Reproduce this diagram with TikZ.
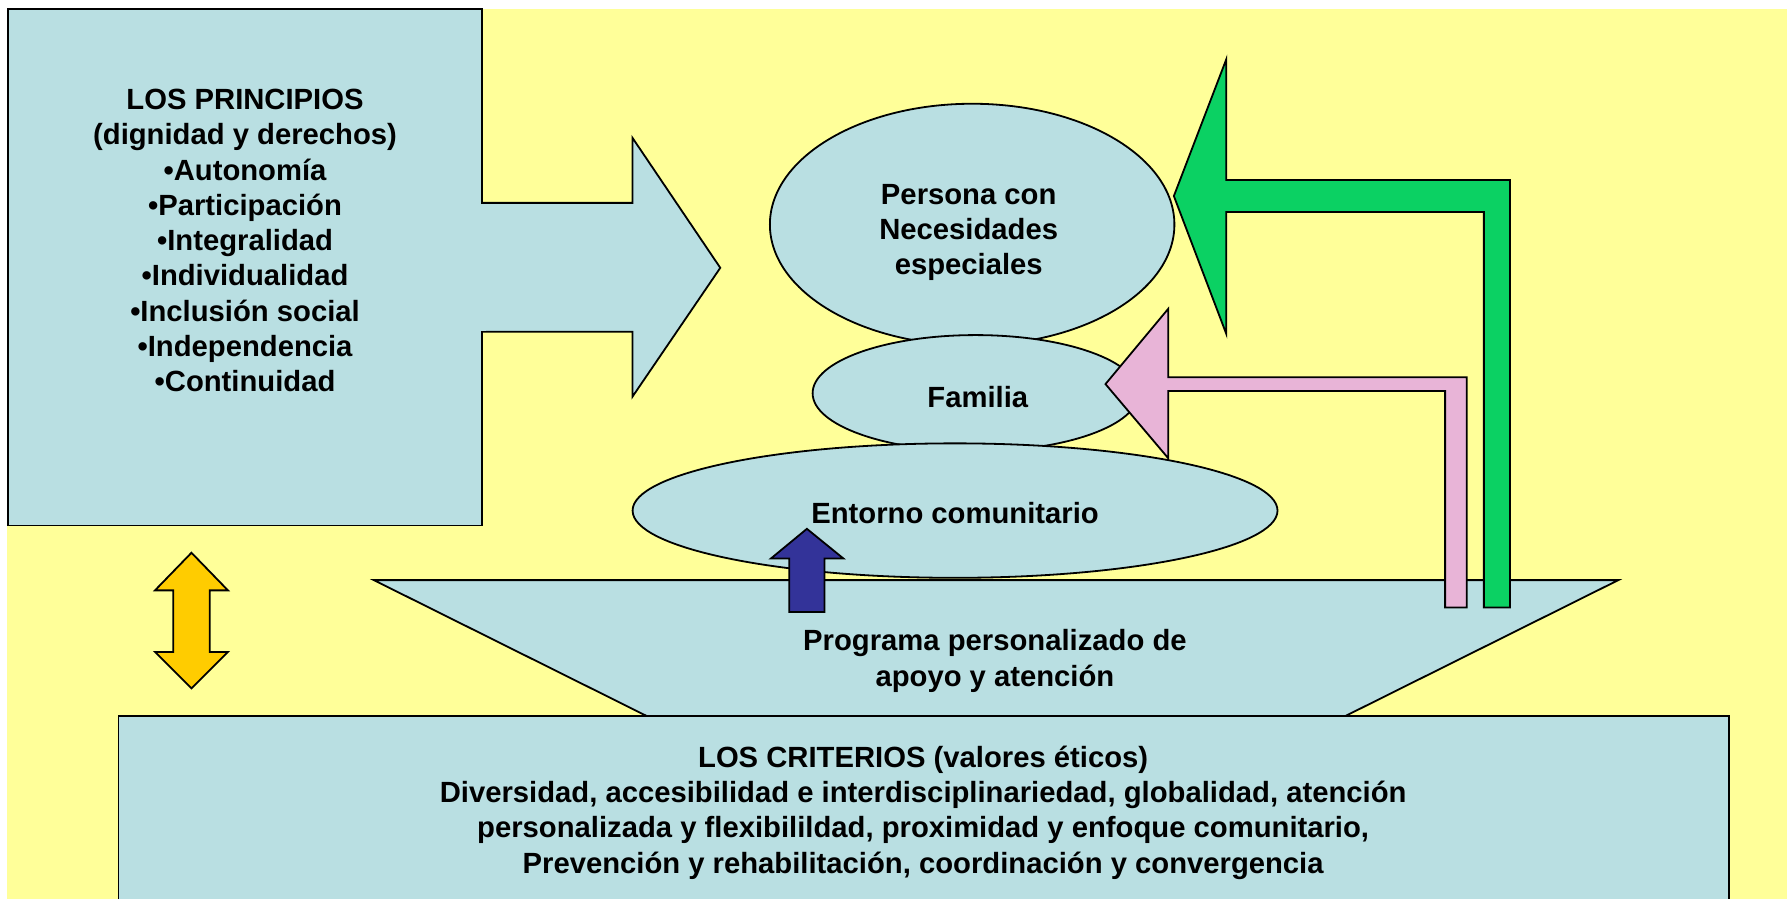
\documentclass[tikz,border=0pt]{standalone}
\usepackage{fontspec}
\setmainfont{Liberation Sans}
\usetikzlibrary{shapes.geometric}

\definecolor{panel}{RGB}{185,223,226}
\definecolor{paper}{RGB}{255,255,153}
\definecolor{greenarrow}{RGB}{11,209,99}
\definecolor{pinkarrow}{RGB}{232,180,215}
\definecolor{bluearrow}{RGB}{51,51,153}
\definecolor{goldarrow}{RGB}{255,204,0}

\tikzset{
  box/.style={draw=black, fill=panel, line width=0.9pt, line join=miter},
  blob/.style={ellipse, draw=black, fill=panel, line width=0.9pt, inner sep=0pt},
  lbl/.style={font=\bfseries\fontsize{14.6}{17.6}\selectfont, align=center},
  blockarrow/.style={draw=black, line width=0.9pt, fill=#1}
}

\begin{document}
\begin{tikzpicture}[x=0.02cm, y=-0.02cm]
    \useasboundingbox (0,0) rectangle (1568,789);
    % Background
    \fill[white] (0,0) rectangle (1568,789);
    \fill[paper] (6,8) rectangle (1568,789);

    % Principles panel and its big arrow
    \draw[box] (7,8) rectangle (423,461);
    \draw[box] (423,178) -- (555,178) -- (555,121) -- (632,235) -- (555,348) -- (555,291) -- (423,291);
    \fill[panel] (420,179) rectangle (426,290);
    \node[lbl] (principios) at (215,211) {LOS PRINCIPIOS\\(dignidad y derechos)\\•Autonomía\\•Participación\\•Integralidad\\•Individualidad\\•Inclusión social\\•Independencia\\•Continuidad};

    % Double arrow between principles and criteria
    \draw[blockarrow=goldarrow] (168,485) -- (200,518) -- (184,518) -- (184,572) -- (200,572) -- (168,604)
        -- (136,572) -- (152,572) -- (152,518) -- (136,518) -- cycle;

    % Person, family, community
    \node[blob, minimum width=7.1cm, minimum height=4.24cm] (persona) at (853,197) {};
    \node[lbl] (personatxt) at (850,204) {Persona con\\Necesidades\\especiales};
    \node[blob, minimum width=5.72cm, minimum height=2.04cm] (familia) at (856,345) {};
    \node[lbl] (familiatxt) at (858,348) {Familia};
    \node[blob, minimum width=11.32cm, minimum height=2.36cm] (entorno) at (838,448) {};
    \node[lbl] (entornotxt) at (838,450) {Entorno comunitario};

    % Personalised programme
    \draw[box] (567,628) -- (328,509) -- (1420,509) -- (1181,628);
    \node[lbl] (programa) at (873,580) {Programa personalizado de\\apoyo y atención};

    % Criteria panel
    \draw[box] (104,789) -- (104,628) -- (1517,628) -- (1517,789);
    \node[lbl] (criterios) at (810,713) {LOS CRITERIOS (valores éticos)\\Diversidad, accesibilidad e interdisciplinariedad, globalidad, atención\\personalizada y flexibilildad, proximidad y enfoque comunitario,\\Prevención y rehabilitación, coordinación y convergencia};

    % Arrows from the programme
    \draw[blockarrow=pinkarrow] (970,337) -- (1025,271) -- (1025,331) -- (1287,331) -- (1287,533) -- (1268,533)
        -- (1268,343) -- (1025,343) -- (1025,402) -- cycle;
    \draw[blockarrow=greenarrow] (1030,172) -- (1076,52) -- (1076,158) -- (1325,158) -- (1325,533) -- (1302,533)
        -- (1302,186) -- (1076,186) -- (1076,293) -- cycle;
    \draw[blockarrow=bluearrow] (708,464) -- (740,490) -- (723.5,490) -- (723.5,537) -- (692.5,537) -- (692.5,490)
        -- (676.5,490) -- cycle;
\end{tikzpicture}
\end{document}
